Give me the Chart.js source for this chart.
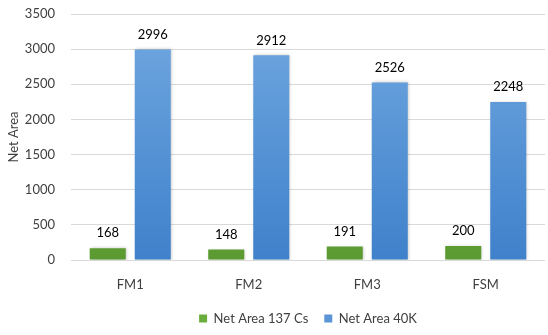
<!DOCTYPE html>
<html>
<head>
<meta charset="utf-8">
<script src="https://cdn.jsdelivr.net/npm/chart.js@4"></script>
<style>
html,body{margin:0;padding:0;background:#fff;}
#wrap{width:548px;height:335px;}
</style>
</head>
<body>
<div id="wrap"><canvas id="c" width="548" height="335"></canvas></div>
<script>
const categories = ["FM1", "FM2", "FM3", "FSM"];
const cs137 = [168, 148, 191, 200];
const k40 = [2996, 2912, 2526, 2248];
const seriesNames = ["Net Area 137 Cs", "Net Area 40K"];
const yTicks = [0, 500, 1000, 1500, 2000, 2500, 3000, 3500];

const FONT = "Lato, 'Open Sans', sans-serif";
const TXT = "#404040";

function grad(ctx, top, bottom) {
  const chart = ctx.chart;
  const area = chart.chartArea;
  if (!area) return bottom;
  const g = chart.ctx.createLinearGradient(0, area.top, 0, area.bottom);
  g.addColorStop(0, top);
  g.addColorStop(1, bottom);
  return g;
}

const valueLabels = {
  id: 'valueLabels',
  afterDatasetsDraw(chart) {
    const c = chart.ctx;
    c.save();
    c.font = "13px " + FONT;
    c.fillStyle = "#000";
    c.textAlign = "center";
    c.textBaseline = "middle";
    chart.data.datasets.forEach((ds, i) => {
      const meta = chart.getDatasetMeta(i);
      meta.data.forEach((bar, j) => {
        c.fillText(String(ds.data[j]), bar.x, bar.y - 15);
      });
    });
    c.restore();
  }
};

const shadow = {
  id: 'shadow',
  beforeDatasetsDraw(chart) {
    const c = chart.ctx;
    c.save();
    c.shadowColor = "rgba(0,0,0,0.22)";
    c.shadowBlur = 3;
    c.shadowOffsetX = 1;
    c.shadowOffsetY = 0;
  },
  afterDatasetsDraw(chart) {
    chart.ctx.restore();
  }
};

new Chart(document.getElementById('c'), {
  type: 'bar',
  data: {
    labels: categories,
    datasets: [
      {
        label: seriesNames[0],
        data: cs137,
        backgroundColor: (ctx) => grad(ctx, "#85c254", "#5a9a30"),
        categoryPercentage: 0.76,
        barPercentage: 0.8
      },
      {
        label: seriesNames[1],
        data: k40,
        backgroundColor: (ctx) => grad(ctx, "#71a8e0", "#3f81cb"),
        categoryPercentage: 0.76,
        barPercentage: 0.8
      }
    ]
  },
  options: {
    responsive: false,
    animation: false,
    devicePixelRatio: 1,
    layout: { padding: { top: 14, right: 3, left: 0, bottom: 0 } },
    plugins: {
      tooltip: { enabled: false },
      legend: {
        position: 'bottom',
        fullSize: false,
        labels: {
          font: { family: FONT, size: 13 },
          color: TXT,
          boxWidth: 8,
          boxHeight: 8,
          padding: 16,
          generateLabels(chart) {
            const cols = ["#6aad3c", "#5b95d8"];
            return chart.data.datasets.map((ds, i) => ({
              text: ds.label, fillStyle: cols[i], strokeStyle: cols[i], lineWidth: 0,
              datasetIndex: i, hidden: false, fontColor: TXT
            }));
          }
        }
      }
    },
    scales: {
      x: {
        grid: { display: false, drawTicks: false },
        border: { display: false },
        ticks: { font: { family: FONT, size: 13 }, color: TXT, padding: 17 },
        afterFit(scale) { scale.height = 36; }
      },
      y: {
        min: 0,
        max: 3500,
        afterBuildTicks(scale) { scale.ticks = yTicks.map(v => ({ value: v })); },
        grid: { color: "#d9d9d9", drawTicks: true, tickLength: 16, tickColor: "rgba(0,0,0,0)", lineWidth: 1 },
        border: { display: false },
        ticks: { font: { family: FONT, size: 13 }, color: TXT, padding: 0, callback: (v) => String(v) },
        title: {
          display: true, text: "Net Area",
          font: { family: FONT, size: 13 }, color: TXT,
          padding: { top: 6, bottom: 0 }
        },
        afterFit(scale) { scale.width = 71; }
      }
    }
  },
  plugins: [shadow, valueLabels]
});
</script>
</body>
</html>
